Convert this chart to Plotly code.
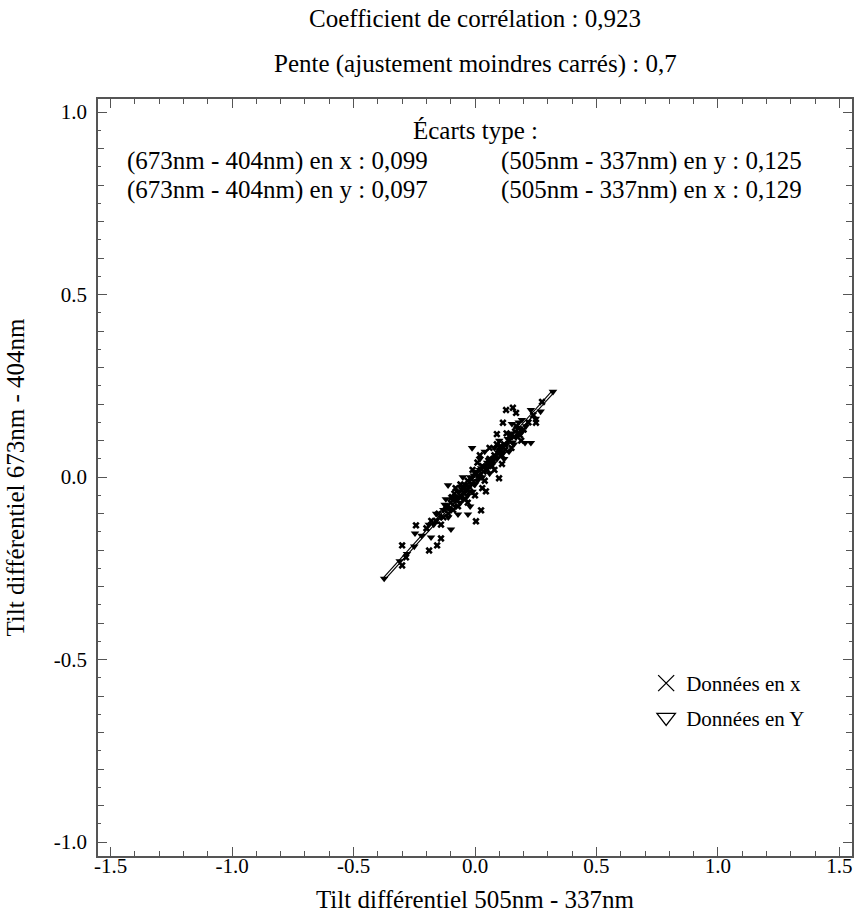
"""Tilt différentiel : nuage de points + ajustement (plotly)"""

import plotly.graph_objects as go

# Données en x (marqueurs croix)
x_pts_x = [0.276, 0.128, 0.156, 0.169, 0.115, 0.251, 0.090, 0.111, 0.099, 0.045,
           0.025, 0.004, -0.243, -0.140, -0.156, -0.189, -0.300, -0.284, -0.300,
           0.20, 0.18, 0.16, 0.14, 0.15, 0.12, 0.10, 0.11, 0.08, 0.06, 0.07, 0.05,
           0.03, 0.02, 0.04, 0.00, -0.01, -0.03, -0.02, -0.05, -0.04, -0.06, -0.08,
           -0.07, -0.09, -0.10, -0.12, -0.11, -0.13, -0.15, -0.16, -0.14, -0.18,
           -0.20, 0.01, 0.03, -0.01, 0.09, 0.13, 0.17, 0.22, 0.19, 0.24, 0.06,
           -0.03, 0.00, -0.06, 0.08, 0.02, -0.08,
           0.035, 0.055, -0.015, -0.035, 0.075, 0.095, -0.055, -0.075, 0.125, 0.145,
           -0.095, -0.115, 0.015, -0.025, 0.065, 0.105, -0.045, -0.085, 0.185, 0.165]
x_pts_y = [0.206, 0.184, 0.190, 0.176, 0.149, 0.149, 0.118, 0.036, -0.003, -0.039,
           -0.091, -0.121, -0.132, -0.168, -0.187, -0.201, -0.187, -0.220, -0.242,
           0.13, 0.12, 0.11, 0.10, 0.08, 0.09, 0.07, 0.06, 0.06, 0.05, 0.03, 0.02,
           0.03, 0.00, -0.01, 0.01, -0.02, -0.01, -0.04, -0.03, -0.06, -0.05, -0.06,
           -0.08, -0.09, -0.07, -0.08, -0.10, -0.11, -0.10, -0.12, -0.13, -0.12,
           -0.14, 0.04, -0.03, 0.02, 0.09, 0.12, 0.14, 0.15, 0.10, 0.17, 0.08,
           -0.07, -0.05, -0.02, 0.02, 0.06, -0.03,
           0.015, 0.045, -0.005, -0.035, 0.045, 0.065, -0.035, -0.065, 0.075, 0.115,
           -0.055, -0.085, 0.005, -0.025, 0.035, 0.085, -0.045, -0.045, 0.115, 0.125]

# Données en Y (triangles)
y_pts_x = [0.321, 0.230, 0.193, 0.152, 0.206, 0.230, -0.012, -0.111, -0.029, -0.070,
           -0.099, -0.247, -0.181, -0.374,
           0.21, 0.19, 0.17, 0.15, 0.13, 0.14, 0.11, 0.09, 0.10, 0.07, 0.05, 0.06,
           0.04, 0.02, 0.03, 0.01, 0.00, -0.02, -0.01, -0.04, -0.03, -0.05, -0.07,
           -0.06, -0.08, -0.10, -0.09, -0.11, -0.12, -0.13, -0.14, -0.16, -0.17,
           -0.19, -0.22, -0.25, -0.28, -0.31, 0.12, 0.16, 0.18, 0.25, 0.27, 0.04,
           -0.02, 0.08, -0.05, 0.02,
           0.025, 0.045, -0.025, -0.045, 0.085, 0.105, -0.065, -0.085, 0.135, 0.155,
           -0.105, -0.125, 0.005, -0.005, 0.065, 0.115, -0.035, -0.095, 0.175, 0.195]
y_pts_y = [0.234, 0.184, 0.157, 0.146, 0.094, 0.094, 0.080, -0.022, -0.102, -0.102,
           -0.143, -0.154, -0.165, -0.278,
           0.14, 0.13, 0.11, 0.12, 0.09, 0.07, 0.08, 0.05, 0.10, 0.05, 0.04, 0.01,
           0.03, 0.02, 0.00, -0.01, -0.02, 0.00, -0.04, -0.02, -0.05, -0.06, -0.04,
           -0.07, -0.08, -0.09, -0.06, -0.11, -0.06, -0.09, -0.11, -0.10, -0.13,
           -0.13, -0.16, -0.19, -0.21, -0.23, 0.05, 0.09, 0.15, 0.16, 0.18, 0.07,
           -0.08, 0.08, 0.00, 0.05,
           0.025, 0.025, -0.025, -0.025, 0.055, 0.075, -0.055, -0.055, 0.105, 0.095,
           -0.085, -0.075, 0.015, 0.005, 0.035, 0.065, -0.035, -0.055, 0.135, 0.125]

# Droite d'ajustement
fit_x = [-0.374, 0.321]
fit_y = [-0.278, 0.234]

titre1 = "Coefficient de corrélation : 0,923"
titre2 = "Pente (ajustement moindres carrés) : 0,7"
ecarts = [
    "(673nm - 404nm) en x : 0,099", "(505nm - 337nm) en y : 0,125",
    "(673nm - 404nm) en y : 0,097", "(505nm - 337nm) en x : 0,129",
]

FONT = "'Liberation Serif', Tinos, 'Nimbus Roman', 'Times New Roman', 'DejaVu Serif', serif"
AXIS_COL = "#555555"
TXT = 25

fig = go.Figure()

# droite (contour noir + intérieur blanc -> trait double)
fig.add_trace(go.Scatter(x=fit_x, y=fit_y, mode="lines",
                         line=dict(color="black", width=3.5), showlegend=False))
fig.add_trace(go.Scatter(x=fit_x, y=fit_y, mode="lines",
                         line=dict(color="white", width=1.2), showlegend=False))

fig.add_trace(go.Scatter(x=x_pts_x, y=x_pts_y, mode="markers",
                         marker=dict(symbol="x", size=6.5, color="black"),
                         showlegend=False))
fig.add_trace(go.Scatter(x=y_pts_x, y=y_pts_y, mode="markers",
                         marker=dict(symbol="triangle-down", size=7.5, color="black"),
                         showlegend=False))

# entrées de légende (symboles ouverts)
fig.add_trace(go.Scatter(x=[None], y=[None], mode="markers", name="Données en x",
                         legendgroup="a",
                         marker=dict(symbol="x-thin-open", size=22, color="black",
                                     line=dict(color="black", width=1.3))))
fig.add_trace(go.Scatter(x=[None], y=[None], mode="markers", name="Données en Y",
                         legendgroup="b",
                         marker=dict(symbol="triangle-down-open", size=20, color="black",
                                     line=dict(color="black", width=1.3))))

# ticks secondaires 0.05 sur y
fig.add_trace(go.Scatter(x=[None], y=[None], yaxis="y2", showlegend=False))

annots = []
for txt, dy in [(titre1, 81), (titre2, 35), ("Écarts type :", -31)]:
    annots.append(dict(text=txt, x=0.0, xref="x", y=1.0, yref="paper",
                       yanchor="middle", yshift=dy, showarrow=False,
                       font=dict(size=TXT)))
for i, txt in enumerate(ecarts):
    col = i % 2
    row = i // 2
    annots.append(dict(text=txt, x=[0.036, 0.532][col], xref="paper", xanchor="left",
                       y=1.0, yref="paper", yanchor="middle", yshift=-62 - 29 * row,
                       showarrow=False, font=dict(size=TXT)))

fig.update_layout(
    width=857, height=920,
    margin=dict(l=98, r=3, t=99, b=64),
    paper_bgcolor="white", plot_bgcolor="white",
    font=dict(family=FONT, size=21, color="black"),
    annotations=annots,
    legend=dict(x=0.727, y=0.255, xanchor="left", yanchor="top",
                font=dict(size=21), bgcolor="rgba(0,0,0,0)",
                tracegroupgap=4, itemwidth=30),
    xaxis=dict(
        range=[-1.552, 1.552], showgrid=False, zeroline=False,
        showline=True, linecolor=AXIS_COL, linewidth=1.5, mirror="ticks",
        ticks="inside", ticklen=9, tickcolor=AXIS_COL, tickwidth=1.2,
        tickvals=[-1.5, -1.0, -0.5, 0.0, 0.5, 1.0, 1.5],
        ticktext=["-1.5", "-1.0", "-0.5", "0.0", "0.5", "1.0", "1.5"],
        ticklabelstandoff=-10,
        minor=dict(dtick=0.1, tick0=0, ticks="inside", ticklen=5,
                   tickcolor=AXIS_COL, tickwidth=1.2),
        title=dict(text="Tilt différentiel 505nm - 337nm", font=dict(size=TXT),
                   standoff=14),
        tickfont=dict(size=21),
    ),
    yaxis=dict(
        range=[-1.038, 1.036], showgrid=False, zeroline=False,
        showline=True, linecolor=AXIS_COL, linewidth=1.5, mirror="ticks",
        ticks="inside", ticklen=9, tickcolor=AXIS_COL, tickwidth=1.2,
        tickvals=[-1.0, -0.5, 0.0, 0.5, 1.0],
        ticktext=["-1.0", "-0.5", "0.0", "0.5", "1.0"],
        ticklabelstandoff=5,
        minor=dict(dtick=0.1, tick0=0, ticks="inside", ticklen=6,
                   tickcolor=AXIS_COL, tickwidth=1.2),
        title=dict(text="Tilt différentiel 673nm - 404nm", font=dict(size=TXT),
                   standoff=22),
        tickfont=dict(size=21),
    ),
    yaxis2=dict(
        overlaying="y", range=[-1.038, 1.036], showgrid=False, zeroline=False,
        showticklabels=False, ticks="inside", ticklen=3, tickcolor=AXIS_COL,
        tickwidth=1.2, dtick=0.05, tick0=0, showline=False, mirror="ticks",
        side="left",
    ),
)

# pas de marge de page autour du graphique
fig.write_html("out.html", config={"displayModeBar": False},
               post_script="document.body.style.margin='0';")
